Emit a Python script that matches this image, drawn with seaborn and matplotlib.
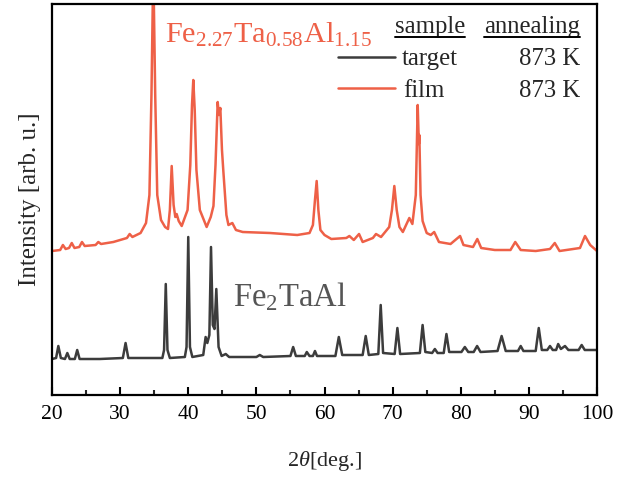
import matplotlib
matplotlib.use("Agg")
import matplotlib.pyplot as plt
import seaborn as sns
import numpy as np
from matplotlib.ticker import MultipleLocator
from matplotlib.lines import Line2D

# ---- data (2theta in deg, intensity in arb. units) ----
target_x = [20.0, 20.6, 20.93, 21.3, 21.9, 22.25, 22.6, 23.35, 23.7, 24.05, 27.0, 30.4, 30.8, 31.2,
            36.2, 36.45, 36.7, 36.95, 37.3, 39.5, 39.75, 40.0, 40.25, 40.6, 42.2, 42.55, 42.8, 43.1,
            43.34, 43.6, 43.85, 44.12, 44.45, 44.9, 45.5, 46.0, 50.0, 50.5, 51.0, 55.0, 55.4, 55.8,
            57.1, 57.4, 57.8, 58.3, 58.6, 58.9, 61.6, 62.1, 62.6, 65.6, 66.05, 66.5, 67.9, 68.25,
            68.6, 70.3, 70.7, 71.1, 74.0, 74.4, 74.8, 75.8, 76.2, 76.6, 77.5, 77.9, 78.3, 80.1,
            80.6, 81.1, 81.9, 82.4, 82.9, 85.4, 86.0, 86.6, 88.4, 88.8, 89.2, 91.0, 91.45, 91.9,
            92.7, 93.1, 93.5, 94.0, 94.3, 94.7, 95.3, 95.8, 97.3, 97.75, 98.2, 100.0]
target_y = [36, 37, 49, 37, 36, 42, 36, 36, 45, 36, 36, 37, 52, 37,
            37, 45, 111, 45, 37, 38, 48, 158, 48, 38, 40, 58, 52, 60,
            148, 70, 66, 106, 48, 39, 41, 38, 38, 40, 38, 39, 48, 39,
            39, 43, 39, 39, 44, 39, 39, 58, 40, 40, 59, 40, 41, 90,
            42, 41, 67, 41, 42, 70, 43, 42, 46, 42, 42, 61, 43, 43,
            48, 43, 43, 49, 43, 44, 59, 44, 44, 49, 44, 44, 67, 45,
            45, 49, 45, 45, 51, 46, 49, 45, 45, 50, 45, 45]

film_x = [20.0, 21.2, 21.6, 22.0, 22.5, 22.9, 23.3, 24.0, 24.4, 24.8, 26.4, 26.8, 27.2, 29.0,
          31.0, 31.4, 31.8, 33.0, 33.8, 34.3, 34.6, 34.87, 35.15, 35.45, 36.0, 36.6, 37.03,
          37.3, 37.57, 37.85, 38.1, 38.3, 38.6, 39.04, 39.9, 40.3, 40.55, 40.74, 40.95, 41.2,
          41.7, 42.7, 43.3, 43.7, 44.0, 44.32, 44.5, 44.71, 44.95, 45.15, 45.6, 45.9, 46.47,
          47.0, 48.0, 52.0, 56.0, 57.8, 58.3, 58.6, 58.85, 59.1, 59.4, 60.0, 61.0, 63.2, 63.65,
          64.3, 65.07, 65.6, 67.1, 67.56, 68.3, 69.5, 69.9, 70.25, 70.6, 71.0, 71.5, 72.45,
          72.9, 73.4, 73.68, 73.85, 73.92, 74.1, 74.4, 75.0, 75.6, 76.1, 76.8, 78.5, 79.9,
          80.4, 81.8, 82.43, 83.0, 85.0, 87.3, 88.0, 88.8, 91.0, 93.1, 93.8, 94.5, 97.5,
          98.24, 99.0, 100.0]
film_y = [144, 145, 150, 146, 147, 152, 147, 148, 153, 149, 150, 153, 151, 153,
          157, 161, 158, 162, 172, 200, 300, 430, 300, 200, 175, 168, 166,
          185, 229, 190, 178, 181, 174, 169, 185, 230, 290, 315, 285, 225,
          185, 168, 178, 189, 230, 293, 280, 287, 245, 224, 180, 170, 172,
          165, 163, 162, 160, 162, 170, 195, 214, 185, 165, 160, 156, 157, 159,
          155, 161, 153, 157, 161, 158, 168, 185, 209, 185, 168, 163, 177,
          171, 200, 290, 251, 260, 200, 174, 162, 160, 163, 153, 151, 159,
          150, 148, 156, 147, 145, 145, 153, 145, 144, 146, 152, 144, 147,
          159, 150, 144]

x_ticks = [20, 30, 40, 50, 60, 70, 80, 90, 100]

red = "#EE6047"
dark = "#3C3C3C"

sns.set_theme(style="white")
plt.rcParams["font.family"] = ["Liberation Serif", "DejaVu Serif"]
plt.rcParams["mathtext.fontset"] = "custom"
plt.rcParams["mathtext.rm"] = "Liberation Serif"
plt.rcParams["mathtext.it"] = "Liberation Serif:italic"

fig = plt.figure(figsize=(6.3, 4.78), dpi=100)
ax = fig.add_axes([52 / 630, 1 - 395 / 478, 545 / 630, 391 / 478])

sns.lineplot(x=target_x, y=target_y, color=dark, linewidth=1.8, ax=ax,
             estimator=None, sort=False)
sns.lineplot(x=film_x, y=film_y, color=red, linewidth=1.8, ax=ax,
             estimator=None, sort=False)

ax.set_xlim(20, 100)
ax.set_ylim(0, 391)
ax.set_xticks(x_ticks)
ax.set_xticklabels([str(t) for t in x_ticks])
ax.xaxis.set_minor_locator(MultipleLocator(5))
ax.set_yticks([])
ax.tick_params(axis="x", which="major", direction="in", length=6, width=1.5,
               labelsize=15.5, pad=7, colors="black", bottom=True)
ax.tick_params(axis="x", which="minor", direction="in", length=3.5, width=1.5, bottom=True)
for s in ax.spines.values():
    s.set_linewidth(1.6)
    s.set_color("black")

ax.set_xlabel(r"2$\theta$[deg.]", fontsize=16, labelpad=18)
ax.set_ylabel("Intensity [arb. u.]", fontsize=18, labelpad=8)

T = ax.transAxes
ax.text(0.207, 0.900, r"Fe$_{2.27}$Ta$_{0.58}$Al$_{1.15}$", transform=T,
        color=red, fontsize=21.8, va="baseline", ha="left")
ax.text(0.332, 0.228, r"Fe$_{2}$TaAl", transform=T,
        color="#555555", fontsize=23.5, va="baseline", ha="left")

fs = 17.8
h1 = ax.text(0.629, 0.926, "sample", transform=T, fontsize=fs, va="baseline", ha="left")
h2 = ax.text(0.969, 0.926, "annealing", transform=T, fontsize=fs, va="baseline", ha="right")
ax.plot([0.525, 0.629], [0.864, 0.864], transform=T, color=dark, linewidth=1.8)
ax.plot([0.525, 0.629], [0.785, 0.785], transform=T, color=red, linewidth=1.8)
ax.text(0.642, 0.844, "target", transform=T, fontsize=fs, va="baseline", ha="left")
ax.text(0.969, 0.844, "873 K", transform=T, fontsize=fs, va="baseline", ha="right")
ax.text(0.644, 0.762, "film", transform=T, fontsize=fs, va="baseline", ha="left")
ax.text(0.969, 0.762, "873 K", transform=T, fontsize=fs, va="baseline", ha="right")

# underline the header words
fig.canvas.draw()
r = fig.canvas.get_renderer()
for h in (h1, h2):
    bb = h.get_window_extent(renderer=r)
    yline = 0.926 * 391 / 478 + (1 - 395 / 478) - 4 / 478
    fig.add_artist(Line2D([bb.x0 / 630, bb.x1 / 630], [yline, yline],
                          transform=fig.transFigure, color="black", linewidth=1.4))

fig.savefig("out.png", dpi=100)
